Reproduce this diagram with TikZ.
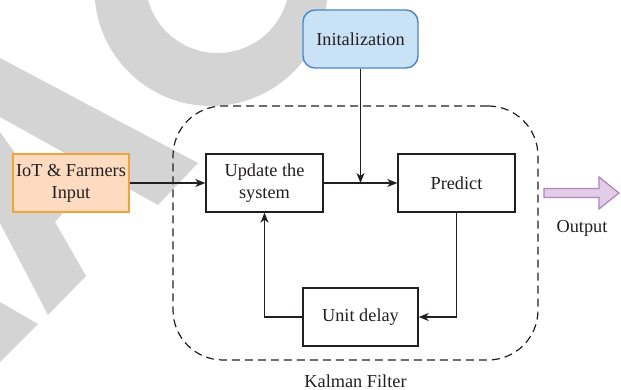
\documentclass[tikz,border=0pt]{standalone}
\usepackage{fontspec}
\setmainfont{Liberation Serif}
\usetikzlibrary{arrows.meta}

\definecolor{wmgray}{RGB}{212,212,212}
\definecolor{inkc}{RGB}{35,31,32}
\definecolor{initfill}{RGB}{201,226,245}
\definecolor{initline}{RGB}{74,134,197}
\definecolor{iotfill}{RGB}{253,219,192}
\definecolor{iotline}{RGB}{240,164,54}
\definecolor{outfill}{RGB}{226,204,230}
\definecolor{outedge}{RGB}{180,131,196}

\begin{document}
\begin{tikzpicture}[x=1pt,y=-1pt,
  font=\fontsize{18.3}{22}\selectfont,
  box/.style={draw=inkc, line width=1.4pt, fill=white, text=inkc,
    minimum width=116pt, minimum height=58pt, inner sep=1pt, align=center},
  link/.style={draw=inkc, line width=1.3pt,
    -{Stealth[length=10pt,width=8pt,inset=3pt]}},
  lbl/.style={text=inkc, inner sep=0pt}]

\useasboundingbox (0,0) rectangle (621,390);

% faint grey background marks
\begin{scope}
  \clip (0,0) rectangle (621,390);
  \fill[wmgray, even odd rule] (211,-10.5) circle[radius=116.5pt]
                               (217.5,-19) circle[radius=72pt];
  \fill[wmgray] (0,58) -- (198,163) -- (158,205) -- (0,117) -- cycle;
  \fill[wmgray] (0,132) -- (20,160) -- (63,195) -- (63,213) -- (55,222)
                -- (86,276) -- (48,315) -- (0,223) -- cycle;
  \fill[wmgray] (0,302) -- (38,324) -- (0,362) -- cycle;
\end{scope}

% Kalman filter frame
\node[draw=inkc, line width=1.2pt, dash pattern=on 8pt off 5pt,
      rounded corners=50pt, minimum width=365pt, minimum height=254pt]
      (kf) at (355.5,233) {};
\node[lbl] (kflbl) at (355.5,381) {Kalman Filter};

% blocks
\node[box, draw=initline, fill=initfill, rounded corners=12pt,
      minimum width=115pt] (init) at (360.5,39) {Initalization};
\node[box, draw=iotline, fill=iotfill] (iot) at (71,183) {IoT \& Farmers\\Input};
\node[box, minimum width=117pt] (upd) at (264.5,183) {Update the\\system};
\node[box, minimum width=117pt] (pred) at (456.5,183) {Predict};
\node[box, minimum width=115pt] (delay) at (360.5,317) {Unit delay};

% connectors
\coordinate (j) at (init.south |- upd.east);
\draw[link] (iot) -- (upd);
\draw[link] (upd) -- (pred);
\draw[link] (init) -- (j);
\draw[link] (pred) |- (delay);
\draw[link] (delay) -| (upd);

% output arrow
\filldraw[fill=outfill, draw=outedge, line width=1.2pt]
  (544,188.5) -- (599,188.5) -- (599,177) -- (619,193) -- (599,209)
  -- (599,197.5) -- (544,197.5) -- cycle;
\node[lbl] (outlbl) at (582,228) {Output};

\end{tikzpicture}
\end{document}
